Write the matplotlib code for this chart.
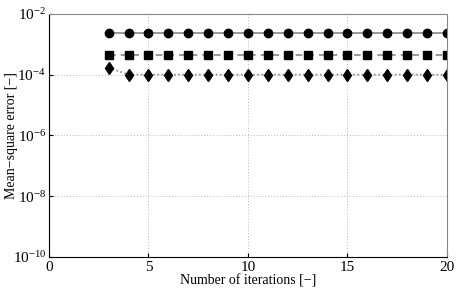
import numpy as np
import matplotlib
matplotlib.use('Agg')
import matplotlib.pyplot as plt

# dati
iterations = list(range(3, 21))
mse_circle = [2.4e-3] * len(iterations)
mse_square = [4.5e-4] * len(iterations)
mse_diamond = [1.7e-4] + [1.0e-4] * (len(iterations) - 1)

x_ticks = [0, 5, 10, 15, 20]
y_ticks = [1e-10, 1e-8, 1e-6, 1e-4, 1e-2]

plt.rcParams['font.family'] = ['Liberation Serif', 'DejaVu Serif']
plt.rcParams['mathtext.fontset'] = 'stix'

fig = plt.figure(figsize=(4.57, 2.89), dpi=100)
ax = fig.add_axes([0.107, 0.111, 0.871, 0.841])

ax.plot(iterations, mse_circle, color='#888888', linestyle='-', linewidth=1.2,
        marker='o', markersize=6, markerfacecolor='black', markeredgecolor='black')
ax.plot(iterations, mse_square, color='#888888', linestyle=(0, (4, 3)), linewidth=1.2,
        marker='s', markersize=5.5, markerfacecolor='black', markeredgecolor='black')
ax.plot(iterations, mse_diamond, color='#888888', linestyle=(0, (1, 1.5)), linewidth=1.2,
        marker='d', markersize=6.5, markerfacecolor='black', markeredgecolor='black')

ax.set_yscale('log')
ax.set_xlim(0, 20)
ax.set_ylim(1e-10, 1e-2)
ax.set_xticks(x_ticks)
ax.set_yticks(y_ticks)
ax.yaxis.set_minor_locator(matplotlib.ticker.NullLocator())
ax.tick_params(direction='in', labelsize=11, length=3)
ax.tick_params(axis='x', pad=3)
ax.tick_params(axis='y', pad=2)

ax.grid(True, linestyle=(0, (1, 2)), color='#bbbbbb', linewidth=0.7)
for side in ['top', 'right']:
    ax.spines[side].set_color('#888888')
for side in ['left', 'bottom']:
    ax.spines[side].set_color('black')

ax.set_xlabel('Number of iterations [\u2212]', fontsize=10, labelpad=0)
ax.set_ylabel('Mean\u2212square error [\u2212]', fontsize=10)
# posiziona l'etichetta y per non farla uscire dall'immagine
ax.yaxis.set_label_coords(-0.078, 0.5)

fig.savefig('out.png', dpi=100)
